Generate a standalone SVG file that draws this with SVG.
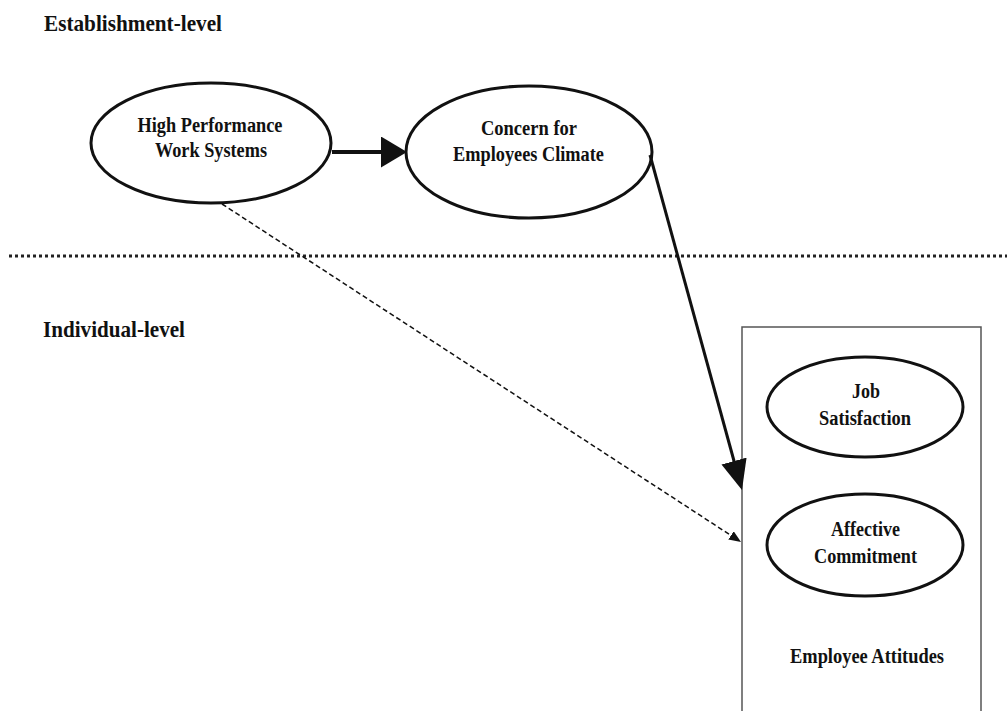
<svg xmlns="http://www.w3.org/2000/svg" width="1007" height="711" viewBox="0 0 1007 711">
<style>
text{font-family:"Liberation Serif","Times New Roman",serif;font-weight:bold;fill:#111}
.lvl{font-size:23px}
.lbl{font-size:20.5px;text-anchor:middle}
.node{fill:#fff;stroke:#111;stroke-width:3}
</style>
<defs>
<marker id="bigHead" markerUnits="userSpaceOnUse" markerWidth="26" markerHeight="31" refX="14" refY="15.5" orient="auto">
<path d="M0,0 L26,15.5 L0,31 z" fill="#111"/>
</marker>
<marker id="solidHead" markerUnits="userSpaceOnUse" markerWidth="30" markerHeight="26" refX="15" refY="13" orient="auto">
<path d="M0,0 L30,13 L0,26 z" fill="#111"/>
</marker>
<marker id="dashHead" markerUnits="userSpaceOnUse" markerWidth="12" markerHeight="10" refX="6" refY="5" orient="auto">
<path d="M0,0 L12,5 L0,10 z" fill="#111"/>
</marker>
</defs>
<rect width="1007" height="711" fill="#fff"/>

<text class="lvl" x="44" y="31" textLength="178" lengthAdjust="spacingAndGlyphs">Establishment-level</text>
<line x1="9" y1="256" x2="1007" y2="256" stroke="#222" stroke-width="3" stroke-dasharray="3 3"/>
<text class="lvl" x="43" y="337" textLength="142" lengthAdjust="spacingAndGlyphs">Individual-level</text>

<g id="employee-attitudes">
<rect x="742" y="327" width="239" height="400" fill="none" stroke="#555" stroke-width="1.5"/>
<text class="lbl" x="867" y="663" textLength="154" lengthAdjust="spacingAndGlyphs">Employee Attitudes</text>
</g>

<g id="hpws">
<ellipse class="node" cx="211" cy="143" rx="120" ry="60"/>
<text class="lbl" x="210" y="132" textLength="145" lengthAdjust="spacingAndGlyphs">High Performance</text>
<text class="lbl" x="211" y="157" textLength="112" lengthAdjust="spacingAndGlyphs">Work Systems</text>
</g>

<g id="climate">
<ellipse class="node" cx="529" cy="152" rx="123" ry="66"/>
<text class="lbl" x="529" y="135" textLength="96" lengthAdjust="spacingAndGlyphs">Concern for</text>
<text class="lbl" x="528.5" y="161" textLength="151" lengthAdjust="spacingAndGlyphs">Employees Climate</text>
</g>

<g id="job-satisfaction">
<ellipse class="node" cx="865" cy="407" rx="98" ry="50"/>
<text class="lbl" x="866" y="398" textLength="28" lengthAdjust="spacingAndGlyphs">Job</text>
<text class="lbl" x="865" y="425" textLength="92" lengthAdjust="spacingAndGlyphs">Satisfaction</text>
</g>

<g id="affective-commitment">
<ellipse class="node" cx="865" cy="545" rx="98" ry="51"/>
<text class="lbl" x="865.5" y="536" textLength="69" lengthAdjust="spacingAndGlyphs">Affective</text>
<text class="lbl" x="865.5" y="563" textLength="103" lengthAdjust="spacingAndGlyphs">Commitment</text>
</g>

<g id="connectors" fill="none" stroke="#111">
<line x1="332" y1="152" x2="395" y2="152" stroke-width="4" marker-end="url(#bigHead)"/>
<line x1="650" y1="155" x2="738" y2="475.5" stroke-width="3" marker-end="url(#solidHead)"/>
<line x1="222" y1="204" x2="736" y2="538.7" stroke-width="1.5" stroke-dasharray="5 3" marker-end="url(#dashHead)"/>
</g>
</svg>
